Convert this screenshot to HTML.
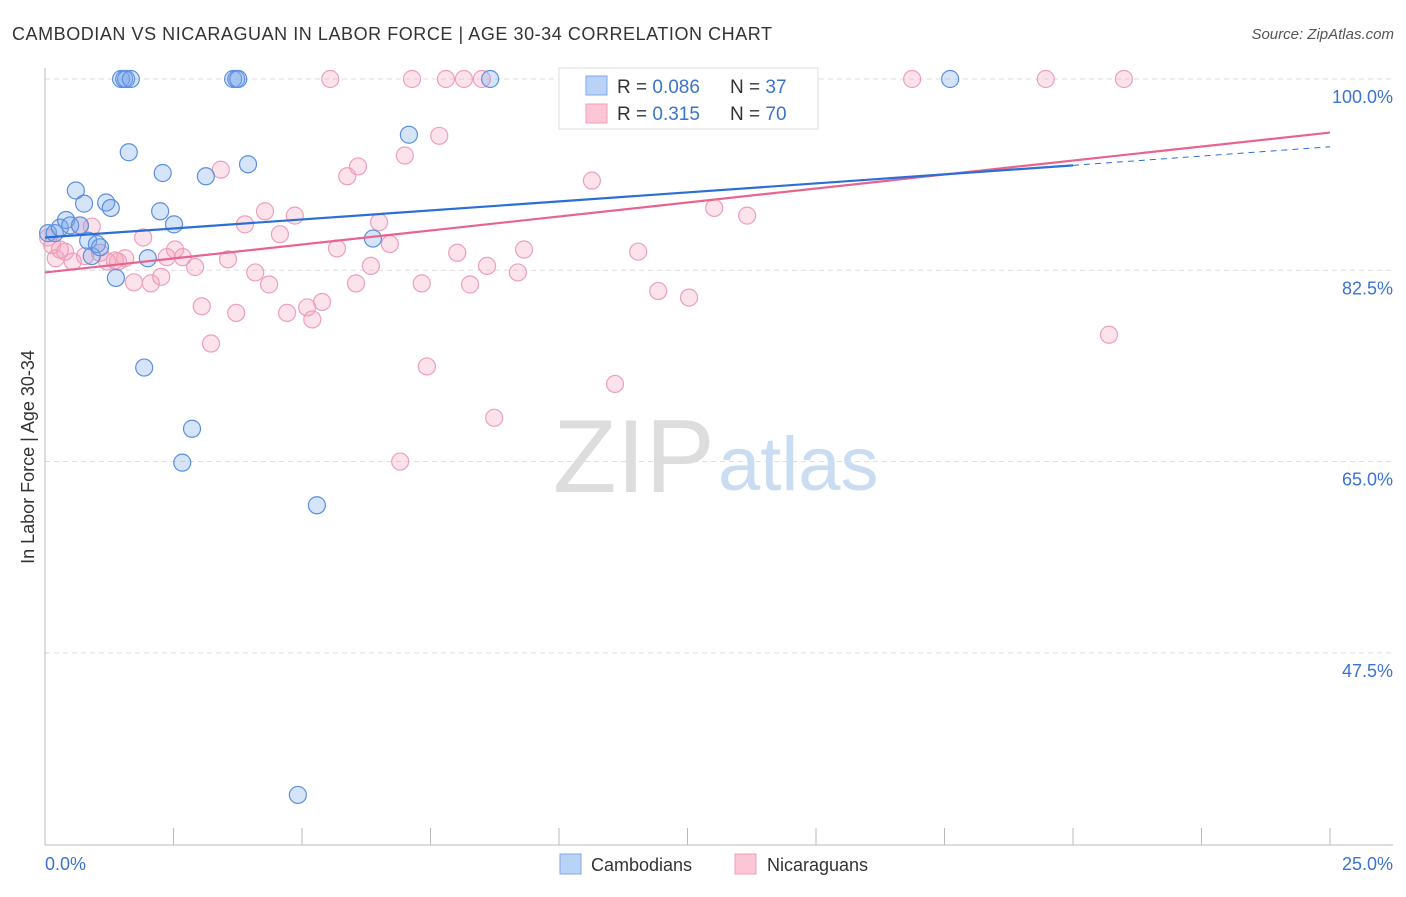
<!DOCTYPE html>
<html><head><meta charset="utf-8"><style>
body{margin:0;background:#fff;font-family:"Liberation Sans",sans-serif}
svg text{font-family:"Liberation Sans",sans-serif}
</style></head><body>
<svg width="1406" height="892">
<text x="12" y="40" font-size="18" fill="#333" letter-spacing="0.55">CAMBODIAN VS NICARAGUAN IN LABOR FORCE | AGE 30-34 CORRELATION CHART</text>
<text x="1394" y="39" font-size="15" fill="#555" font-style="italic" text-anchor="end">Source: ZipAtlas.com</text>
<g>
<text x="553" y="492" font-size="104" fill="#ddd" font-family="Liberation Serif,serif">ZIP</text>
<text x="718" y="490" font-size="76" fill="#c9dcf2">atlas</text>
</g>
<g id="grid"></g>
<line x1="45" y1="68" x2="45" y2="845" stroke="#bbb"/>
<line x1="45" y1="845" x2="1393" y2="845" stroke="#bbb"/>
<g id="xt"></g>
<text x="28" y="457" font-size="18" fill="#333" transform="rotate(-90 28 457)" text-anchor="middle" dy="6">In Labor Force | Age 30-34</text>
<g id="pts"></g>
<g id="lines"></g>
<g>
<rect x="559" y="68" width="259" height="61" fill="#fff" stroke="#ddd"/>
<rect x="586" y="76" width="21" height="19" fill="#b8d3f5" stroke="#7fa9e6"/>
<rect x="586" y="104" width="21" height="19" fill="#fcc6d6" stroke="#f0a0b8"/>
<text x="617" y="93" font-size="19" fill="#333">R = <tspan fill="#3b73d0">0.086</tspan></text>
<text x="730" y="93" font-size="19" fill="#333">N = <tspan fill="#3b73d0"> 37</tspan></text>
<text x="617" y="120" font-size="19" fill="#333">R = <tspan fill="#3b73d0"> 0.315</tspan></text>
<text x="730" y="120" font-size="19" fill="#333">N = <tspan fill="#3b73d0">70</tspan></text>
</g>
<g>
<rect x="560" y="854" width="21" height="20" fill="#b8d3f5" stroke="#7fa9e6"/>
<text x="591" y="871" font-size="18" fill="#333">Cambodians</text>
<rect x="735" y="854" width="21" height="20" fill="#fcc6d6" stroke="#f0a0b8"/>
<text x="767" y="871" font-size="18" fill="#333">Nicaraguans</text>
</g>
</svg>
<script>
const yTicks=[100,82.5,65,47.5];
const yTickLabels=["100.0%","82.5%","65.0%","47.5%"];
const xTickVals=[0,2.5,5,7.5,10,12.5,15,17.5,20,22.5,25];
const xEndLabels=["0.0%","25.0%"];
const cambX=[0.06,0.19,0.29,0.41,0.49,0.60,0.68,0.76,0.84,0.91,1.01,1.07,1.19,1.28,1.38,1.48,1.54,1.58,1.67,1.63,1.93,2.00,2.24,2.29,2.51,2.67,2.86,3.13,3.66,3.72,3.76,3.95,5.29,4.92,6.38,7.08,8.66,17.61];
const cambY=[85.9,85.9,86.4,87.1,86.6,89.8,86.6,88.6,85.2,83.8,84.9,84.6,88.7,88.2,81.8,100,100,100,100,93.3,73.6,83.6,87.9,91.4,86.7,64.9,68.0,91.1,100,100,100,92.2,61.0,34.5,85.4,94.9,100,100];
const nicX=[0.06,0.14,0.21,0.29,0.39,0.54,0.68,0.78,0.91,1.07,1.21,1.36,1.42,1.56,1.73,1.91,2.06,2.26,2.37,2.53,2.68,2.92,3.05,3.23,3.42,3.56,3.72,3.89,4.09,4.28,4.36,4.57,4.71,4.86,5.10,5.20,5.39,5.55,5.68,5.88,6.05,6.09,6.34,6.50,6.71,6.91,7.00,7.14,7.33,7.43,7.67,7.80,8.02,8.15,8.27,8.50,8.60,8.74,9.20,9.32,10.35,10.64,11.09,11.54,11.93,12.53,12.90,13.02,13.66,16.87,19.47,20.70,20.99];
const nicY=[85.5,84.8,83.6,84.4,84.2,83.3,86.6,83.8,86.5,84.1,83.3,83.4,83.3,83.6,81.4,85.5,81.3,81.9,83.7,84.4,83.7,82.8,79.2,75.8,91.7,83.5,78.6,86.7,82.3,87.9,81.2,85.8,78.6,87.5,79.1,78.0,79.6,100,84.5,91.1,81.3,92.0,82.9,86.9,84.9,65.0,93.0,100,81.3,73.7,94.8,100,84.1,100,81.2,100,82.9,69.0,82.3,84.4,98.8,90.7,72.1,84.2,80.6,80.0,97.7,88.2,87.5,100,100,76.6,100];
const cambTrend=[85.5,92.1,93.8]; // values at x=0, 20, 25
const nicTrend=[82.3,95.1];       // values at x=0, 25
const NS="http://www.w3.org/2000/svg";
const sx=v=>45+v/25*1285, sy=v=>79+(100-v)*10.93;
function mk(t,a,p){const e=document.createElementNS(NS,t);for(const k in a)e.setAttribute(k,a[k]);p.appendChild(e);return e;}
const grid=document.getElementById('grid');
yTicks.forEach((v,i)=>{
 const l=mk('line',{x1:45,x2:1393,y1:sy(v),y2:sy(v),stroke:'#ddd','stroke-dasharray':'5,4'},grid);
 
 
 const t=mk('text',{x:1393,y:sy(v)+24,'font-size':18,fill:'#3b73d0','text-anchor':'end'},grid);
 t.textContent=yTickLabels[i];
 
 
});
const xt=document.getElementById('xt');
xTickVals.forEach(v=>{
 const l=mk('line',{x1:sx(v),x2:sx(v),y1:828,y2:845,stroke:'#bbb'},xt);
 
 
});
let t0=mk('text',{x:45,y:870,'font-size':18,fill:'#3b73d0'},xt);t0.textContent=xEndLabels[0];


let t1=mk('text',{x:1393,y:870,'font-size':18,fill:'#3b73d0','text-anchor':'end'},xt);t1.textContent=xEndLabels[1];


const pts=document.getElementById('pts');
nicX.forEach((x,i)=>{
 const c=mk('circle',{cx:sx(x),cy:sy(nicY[i]),r:8.5,fill:'rgba(244,160,188,0.3)',stroke:'#eea0b8','stroke-width':1.2},pts);
 
 
});
cambX.forEach((x,i)=>{
 const c=mk('circle',{cx:sx(x),cy:sy(cambY[i]),r:8.5,fill:'rgba(120,165,235,0.3)',stroke:'#5b8fe0','stroke-width':1.2},pts);
 
 
});
const lines=document.getElementById('lines');
let a=mk('line',{x1:sx(0),y1:sy(nicTrend[0]),x2:sx(25),y2:sy(nicTrend[1]),stroke:'#e8648e','stroke-width':2.2},lines);


let b=mk('line',{x1:sx(0),y1:sy(cambTrend[0]),x2:sx(20),y2:sy(cambTrend[1]),stroke:'#2b6fd6','stroke-width':2.2},lines);


let c=mk('line',{x1:sx(20),y1:sy(cambTrend[1]),x2:sx(25),y2:sy(cambTrend[2]),stroke:'#2b6fd6','stroke-width':1,'stroke-dasharray':'6,5'},lines);


</script>
</body></html>
